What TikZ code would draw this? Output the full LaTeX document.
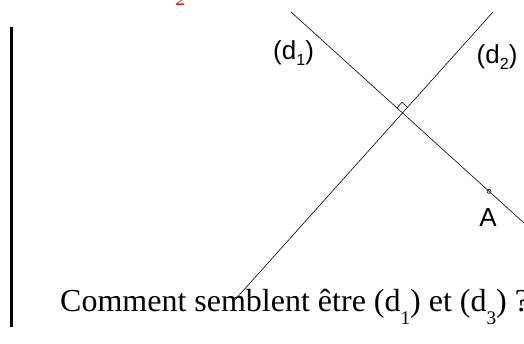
\documentclass[tikz,border=0pt]{standalone}
\usepackage{fontspec}
\usetikzlibrary{calc}
\setmainfont{Liberation Serif}
\newfontfamily\arialf{Liberation Sans}
\newcommand{\sbs}[1]{\raisebox{-0.22em}{\fontsize{0.62em}{0.7em}\selectfont #1}}
\newcommand{\sbt}[1]{\raisebox{-0.4em}{\fontsize{0.6em}{0.7em}\selectfont #1}}
\begin{document}
\begin{tikzpicture}[x=1bp,y=-1bp,
  geoline/.style={line width=0.6bp,black},
  lbl/.style={font=\arialf\fontsize{26bp}{28bp}\selectfont,inner sep=0pt},
  mtext/.style={font=\fontsize{32bp}{34bp}\selectfont,inner sep=0pt}]
\useasboundingbox (0,0) rectangle (524,343);
% left bar
\coordinate (barT) at (11.5,27);
\coordinate (barB) at (11.5,327);
\draw[line width=3bp] (barT) -- (barB);
% lines
\coordinate (d1s) at (291,12);
\coordinate (d1e) at (528,226.6);
\coordinate (d2s) at (493,12);
\coordinate (d2e) at (233,302);
\draw[geoline] (d1s) -- (d1e);
\draw[geoline] (d2s) -- (d2e);
\coordinate (I) at (intersection of d1s--d1e and d2s--d2e);
% right angle mark
\coordinate (P1) at ($(I)!7.5bp!(d1s)$);
\coordinate (P2) at ($(I)!7.5bp!(d2s)$);
\draw[geoline] (P1) -- ($(P1)+(P2)-(I)$) -- (P2);
% point A
\coordinate (A) at (489,191.3);
\draw[line width=0.6bp] (A) circle (2bp);
\node[lbl,anchor=base] (Alab) at (488,226.5) {A};
% labels
\node[lbl,anchor=base west] (l1) at (273,59.5) {(d\sbs{1})};
\node[lbl,anchor=base west] (l2) at (476.5,63.5) {(d\sbs{2})};
% question
\node[mtext,anchor=base west] (q) at (60,311.5) {Comment semblent être (d\sbt{1}) et (d\sbt{3}) ?};
% red fragment
\node[font=\itshape\fontsize{20bp}{22bp}\selectfont,text=red,inner sep=0pt,anchor=base] (r) at (181,5.5) {2};
\end{tikzpicture}
\end{document}
